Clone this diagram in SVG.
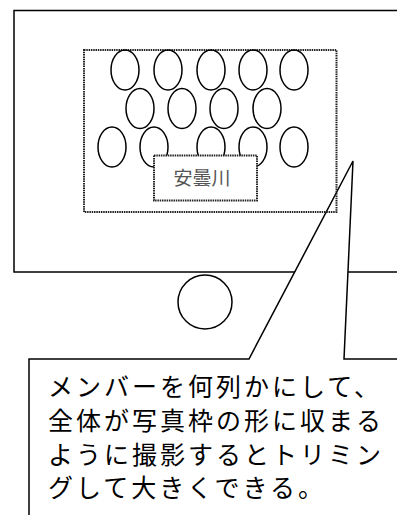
<svg xmlns="http://www.w3.org/2000/svg" width="397" height="515" viewBox="0 0 397 515">
<style>
.s{fill:none;stroke:#000;stroke-width:1.5}
.p{fill:#fff;stroke:#000;stroke-width:1.5}
.d{fill:none;stroke:#222;stroke-width:2;stroke-dasharray:1.5 0.8}
.dw{fill:#fff;stroke:#222;stroke-width:2;stroke-dasharray:1.5 0.8}
.t{font-family:"Noto Sans CJK JP",sans-serif;font-size:25px;letter-spacing:3px;fill:#000}
.l{font-family:"Noto Sans CJK JP",sans-serif;font-size:19px;fill:#555}
</style>
<rect width="397" height="515" fill="#fff"/>
<g id="camera">
<rect x="14" y="10.5" width="400" height="261.5" class="s"/>
<circle cx="205" cy="302" r="27" class="s"/>
</g>
<g id="callout">
<path d="M353,161 L249,359 L29,359 L29,530 L410,530 L410,359 L344,359 Z" class="p"/>
<text class="t" x="48" y="396">メンバーを何列かにして、</text>
<text class="t" x="48" y="430">全体が写真枠の形に収まる</text>
<text class="t" x="48" y="464">ように撮影するとトリミン</text>
<text class="t" x="48" y="497">グして大きくできる。</text>
</g>
<g id="frame">
<rect x="84" y="50" width="252.5" height="162" class="d"/>
<g id="members" class="s">
<ellipse cx="125" cy="70" rx="14" ry="20"/>
<ellipse cx="168" cy="70" rx="14" ry="20"/>
<ellipse cx="211" cy="70" rx="14" ry="20"/>
<ellipse cx="253" cy="70" rx="14" ry="20"/>
<ellipse cx="294" cy="70" rx="14" ry="20"/>
<ellipse cx="140" cy="108.5" rx="14" ry="20"/>
<ellipse cx="182" cy="108.5" rx="14" ry="20"/>
<ellipse cx="224" cy="108.5" rx="14" ry="20"/>
<ellipse cx="267" cy="108.5" rx="14" ry="20"/>
<ellipse cx="112" cy="147" rx="14" ry="20"/>
<ellipse cx="154" cy="147" rx="14" ry="20"/>
<ellipse cx="211" cy="147" rx="14" ry="20"/>
<ellipse cx="253" cy="147" rx="14" ry="20"/>
<ellipse cx="294" cy="147" rx="14" ry="20"/>
</g>
</g>
<g id="label">
<rect x="154" y="155.5" width="103" height="45" class="dw"/>
<text class="l" x="202" y="185" text-anchor="middle">安曇川</text>
</g>
</svg>
